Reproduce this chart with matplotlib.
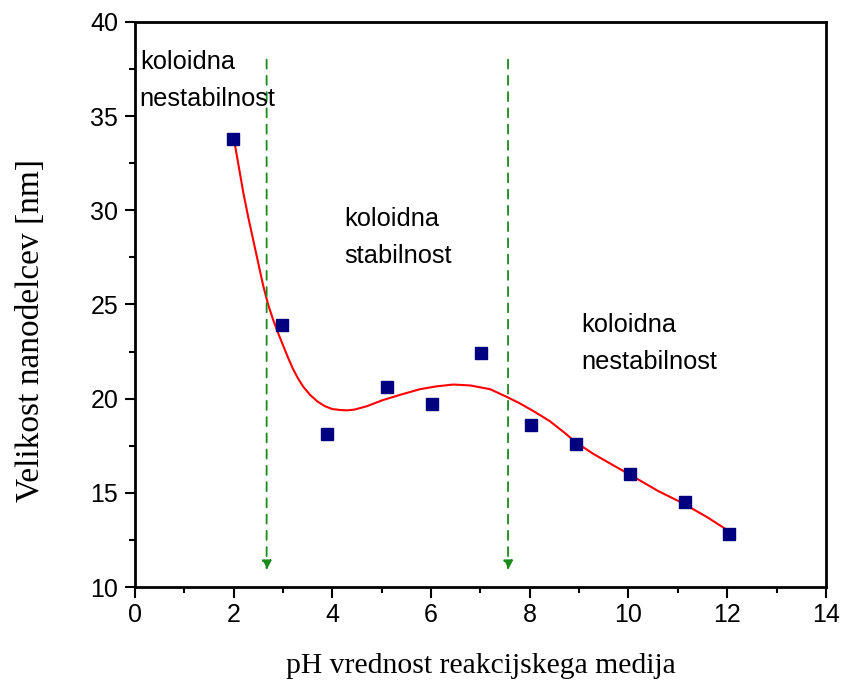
import matplotlib
matplotlib.use("Agg")
import matplotlib.pyplot as plt
from matplotlib.ticker import MultipleLocator

# measured data
ph = [1.98, 2.98, 3.89, 5.10, 6.01, 7.01, 8.02, 8.93, 10.03, 11.14, 12.04]
size = [33.8, 23.9, 18.1, 20.6, 19.7, 22.4, 18.6, 17.6, 16.0, 14.5, 12.8]

# fitted curve
fit_x = [2.0, 2.1, 2.2, 2.3, 2.4, 2.5, 2.6, 2.7, 2.8, 2.9, 3.0, 3.1, 3.2, 3.3, 3.41,
         3.55, 3.7, 3.85, 4.0, 4.15, 4.3, 4.45, 4.7, 5.03, 5.37, 5.77, 6.1, 6.45,
         6.8, 7.2, 7.53, 7.8, 8.1, 8.41, 8.7, 8.95, 9.3, 9.7, 10.1, 10.6, 11.1,
         11.6, 12.05]
fit_y = [33.9, 32.4, 30.9, 29.6, 28.4, 27.2, 26.0, 25.0, 24.2, 23.5, 22.85, 22.2, 21.6,
         21.1, 20.64, 20.2, 19.85, 19.6, 19.45, 19.4, 19.38, 19.42, 19.6, 19.93, 20.2,
         20.5, 20.65, 20.75, 20.7, 20.5, 20.1, 19.75, 19.3, 18.8, 18.2, 17.65, 17.05,
         16.45, 15.86, 15.1, 14.45, 13.7, 12.94]

# boundaries (dashed arrows)
bound_x = [2.67, 7.56]
bound_top = 38.0
bound_bottom = 10.9

fig = plt.figure(figsize=(8.48, 6.85), dpi=100)
ax = fig.add_axes([0.159, 0.143, 0.815, 0.825])

ax.plot(fit_x, fit_y, color="red", lw=1.5, zorder=2)
ax.plot(ph, size, ls="none", marker="s", ms=8, color="#000080", zorder=3)

for bx in bound_x:
    ax.annotate("", xy=(bx, bound_bottom), xytext=(bx, bound_top),
                arrowprops=dict(arrowstyle="-|>", color="#1a8a1a", lw=1.3,
                                ls=(0, (5, 4)), mutation_scale=14, shrinkA=0, shrinkB=0))

tfont = dict(family="Liberation Sans", fontsize=18.3, color="black", va="top", ha="left",
             linespacing=1.7)
ax.text(0.1, 38.52, "koloidna\nnestabilnost", **tfont)
ax.text(4.25, 30.18, "koloidna\nstabilnost", **tfont)
ax.text(9.05, 24.55, "koloidna\nnestabilnost", **tfont)

ax.set_xlim(0, 14)
ax.set_ylim(10, 40)
ax.xaxis.set_major_locator(MultipleLocator(2))
ax.xaxis.set_minor_locator(MultipleLocator(1))
ax.yaxis.set_major_locator(MultipleLocator(5))
ax.yaxis.set_minor_locator(MultipleLocator(2.5))
ax.tick_params(which="both", direction="out", top=False, right=False, width=1.5)
ax.tick_params(axis="x", which="major", length=8)
ax.tick_params(axis="y", which="major", length=7, pad=5)
ax.tick_params(which="minor", length=4)
ax.tick_params(labelsize=18)
for lab in ax.get_xticklabels() + ax.get_yticklabels():
    lab.set_family("Liberation Sans")
for sp in ax.spines.values():
    sp.set_linewidth(2)

ax.set_xlabel("pH vrednost reakcijskega medija", family="Liberation Serif", fontsize=21.3, labelpad=19)
ax.set_ylabel("Velikost nanodelcev [nm]", family="Liberation Serif", fontsize=24)
ax.yaxis.set_label_coords(-0.129, 0.454)

fig.savefig("out.png", dpi=100)
